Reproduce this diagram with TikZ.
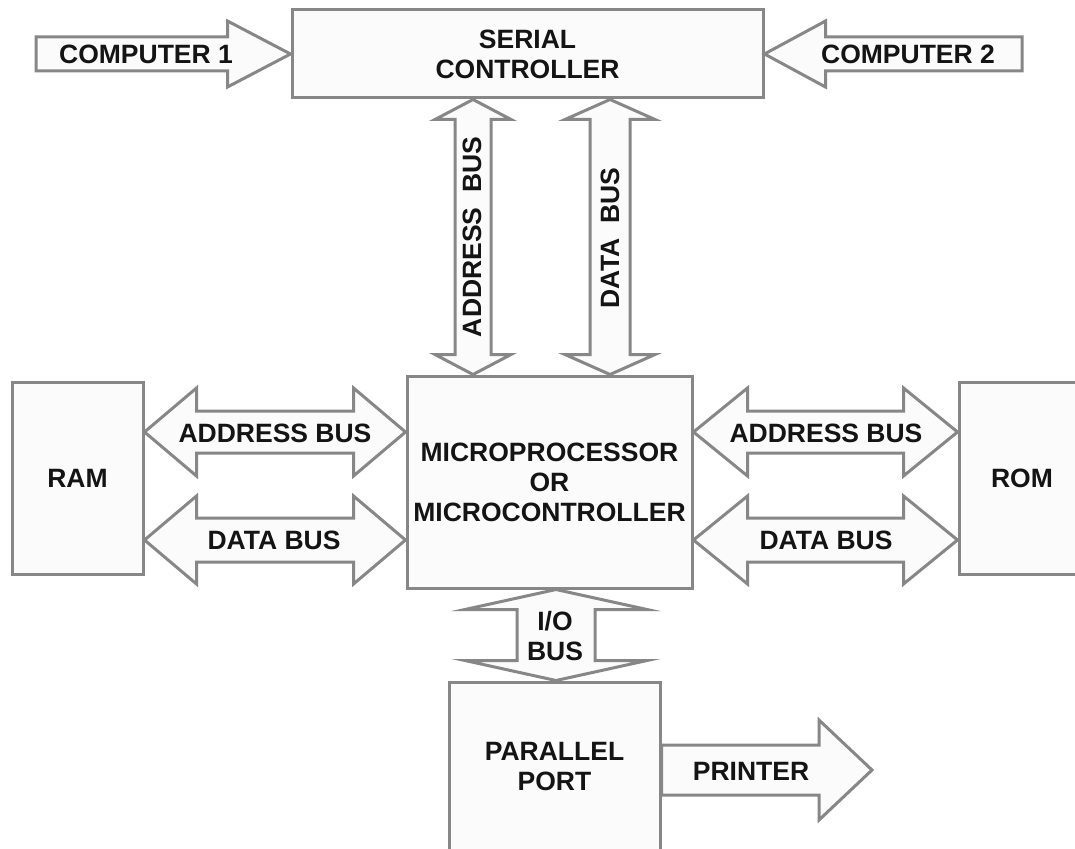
\documentclass[tikz,border=0pt]{standalone}
\usepackage{fontspec}
\setmainfont{Liberation Sans}
\usetikzlibrary{calc}
\definecolor{linegray}{RGB}{135,135,135}
\definecolor{boxfill}{RGB}{251,251,251}
\definecolor{inkblack}{RGB}{20,20,20}
\newcommand{\diafont}{\fontsize{26.5}{30}\selectfont\bfseries}
% double block arrow, left tip to right tip: head length, head half, shaft half
\newcommand{\hbus}[5]{%
  \draw[bus] let \p1=(#1), \p2=(#2) in
    (\x1,\y1) -- (\x1+#3pt,\y1+#4pt) -- (\x1+#3pt,\y1+#5pt)
    -- (\x2-#3pt,\y2+#5pt) -- (\x2-#3pt,\y2+#4pt) -- (\x2,\y2)
    -- (\x2-#3pt,\y2-#4pt) -- (\x2-#3pt,\y2-#5pt)
    -- (\x1+#3pt,\y1-#5pt) -- (\x1+#3pt,\y1-#4pt) -- cycle;}
% double block arrow, top tip to bottom tip
\newcommand{\vbus}[5]{%
  \draw[bus] let \p1=(#1), \p2=(#2) in
    (\x1,\y1) -- (\x1+#4pt,\y1-#3pt) -- (\x1+#5pt,\y1-#3pt)
    -- (\x2+#5pt,\y2+#3pt) -- (\x2+#4pt,\y2+#3pt) -- (\x2,\y2)
    -- (\x2-#4pt,\y2+#3pt) -- (\x2-#5pt,\y2+#3pt)
    -- (\x1-#5pt,\y1-#3pt) -- (\x1-#4pt,\y1-#3pt) -- cycle;}
% single block arrow, tail to tip (horizontal)
\newcommand{\onebus}[5]{%
  \draw[bus] let \p1=(#1), \p2=(#2), \n1={sign(\x2-\x1)} in
    (\x1,\y1+#5pt) -- (\x2-\n1*#3pt,\y2+#5pt) -- (\x2-\n1*#3pt,\y2+#4pt)
    -- (\x2,\y2) -- (\x2-\n1*#3pt,\y2-#4pt) -- (\x2-\n1*#3pt,\y2-#5pt)
    -- (\x1,\y1-#5pt) -- cycle;}

\begin{document}
\begin{tikzpicture}[x=1pt,y=-1pt]
\tikzset{block/.style = {shape=rectangle, draw=linegray, fill=boxfill, line width=3pt,
  align=center, text=inkblack, font=\diafont, inner sep=0pt}}
\tikzset{bus/.style = {draw=linegray, fill=boxfill, line width=3pt, line join=miter}}
\tikzset{buslabel/.style = {align=center, text=inkblack, font=\diafont, inner sep=0pt}}
\useasboundingbox[fill=white] (0,0) rectangle (1075,848);
% blocks
\node[block, minimum width=471pt, minimum height=88pt] (serial) at (527.5,54) {SERIAL\\CONTROLLER};
\node[block, minimum width=285pt, minimum height=212pt] (mpu) at (549.5,482) {MICROPROCESSOR\\OR\\MICROCONTROLLER};
\node[block, minimum width=131pt, minimum height=192pt] (ram) at (77.5,478) {RAM};
\node[block, minimum width=126pt, minimum height=192pt] (rom) at (1022,478) {ROM};
\node[block, minimum width=211pt, minimum height=170pt] (port) at (554.5,767) {PARALLEL\\PORT};
% free ends
\coordinate (pc1) at (36,54);
\coordinate (pc2) at (1022,54);
\coordinate (prn) at (872,770);
% buses
\onebus{pc1}{serial.west}{63}{33}{17}
\node[buslabel] (pc1text) at (146,54) {COMPUTER 1};
\onebus{pc2}{serial.east}{61}{33}{17}
\node[buslabel] (pc2text) at (908,54) {COMPUTER 2};
\vbus{serial.south -| 473,0}{mpu.north -| 473,0}{20}{38}{18}
\node[buslabel, rotate=90] (abustext) at (472,237) {ADDRESS~~BUS};
\vbus{serial.south -| 610,0}{mpu.north -| 610,0}{20}{45}{20}
\node[buslabel, rotate=90] (dbustext) at (610,238) {DATA~~BUS};
\hbus{ram.east |- 0,432}{mpu.west |- 0,432}{52}{44}{21}
\node[buslabel] (ramatext) at (275,433) {ADDRESS BUS};
\hbus{ram.east |- 0,540}{mpu.west |- 0,540}{52}{44}{22}
\node[buslabel] (ramdtext) at (274,540) {DATA BUS};
\hbus{mpu.east |- 0,432}{rom.west |- 0,432}{54}{44}{21}
\node[buslabel] (romatext) at (826,433) {ADDRESS BUS};
\hbus{mpu.east |- 0,540}{rom.west |- 0,540}{54}{44}{22}
\node[buslabel] (romdtext) at (826,540) {DATA BUS};
\vbus{mpu.south -| 556,0}{port.north -| 556,0}{20}{91}{39}
\node[buslabel] (iotext) at (555,636) {I/O\\BUS};
\onebus{port.east |- 0,770}{prn}{53}{50}{25}
\node[buslabel] (prntext) at (751,771) {PRINTER};
\end{tikzpicture}
\end{document}
